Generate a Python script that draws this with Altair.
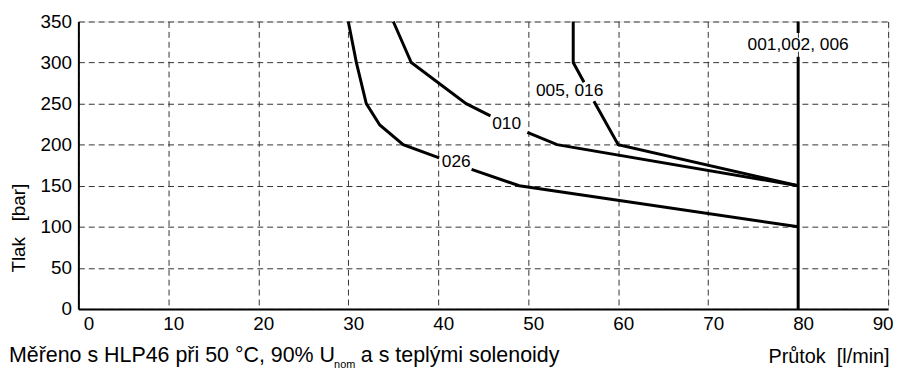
import altair as alt
import pandas as pd

FONT = "Liberation Sans"
NB = "\u00a0"

# --- curve data (flow l/min, pressure bar); seg splits line where a label sits
c026_flow = [30.0, 30.9, 32.0, 33.5, 36.1, 40.1, 43.7, 49.0, 80.0]
c026_pres = [350, 300, 250, 224, 200, 184, 170, 150, 100]
c026_seg = [0, 0, 0, 0, 0, 0, 1, 1, 1]

c010_flow = [35.0, 37.0, 43.1, 45.8, 49.9, 53.2, 80.0]
c010_pres = [350, 300, 250, 235, 215, 200, 150]
c010_seg = [0, 0, 0, 0, 1, 1, 1]

c005_flow = [55.0, 55.0, 56.2, 57.3, 60.0, 80.0]
c005_pres = [350, 300, 276, 253, 200, 150]
c005_seg = [0, 0, 0, 1, 1, 1]

c001_flow = [80.0, 80.0, 80.0, 80.0]
c001_pres = [0, 307, 336, 350]
c001_seg = [0, 0, 1, 1]

label_text = ["026", "010", "005, 016", "001,002, 006"]
label_x = [42.0, 47.6, 54.6, 80.0]
label_y = [179, 225, 265, 321]

x_ticks = [0, 10, 20, 30, 40, 50, 60, 70, 80, 90]
y_ticks = [0, 50, 100, 150, 200, 250, 300, 350]

rows = []
for name, fl, pr, sg in [("026", c026_flow, c026_pres, c026_seg),
                         ("010", c010_flow, c010_pres, c010_seg),
                         ("005", c005_flow, c005_pres, c005_seg),
                         ("001", c001_flow, c001_pres, c001_seg)]:
    for i, (f, p, s) in enumerate(zip(fl, pr, sg)):
        rows.append({"curve": name, "seg": f"{name}-{s}", "flow": f, "p": p, "i": i})
df = pd.DataFrame(rows)
lab = pd.DataFrame({"t": label_text, "x": label_x, "y": label_y})

xscale = alt.Scale(domain=[0, 90], nice=False, zero=False)
yscale = alt.Scale(domain=[0, 350], nice=False)

x_axis = alt.Axis(values=x_ticks, ticks=False, labelPadding=6, labelOffset=5,
                  labelFontSize=19, labelFont=FONT, labelColor="black",
                  grid=True, gridDash=[6, 4], gridColor="#333333", gridWidth=1,
                  domainColor="black", domainWidth=2,
                  title=f"Průtok{NB}{NB}[l/min]", titleFont=FONT, titleFontSize=20,
                  titleFontWeight="normal", titleColor="black",
                  titleX=818, titleY=54, titleAlign="right", titleBaseline="alphabetic")
y_axis = alt.Axis(values=y_ticks, ticks=False, labelPadding=7,
                  labelFontSize=19, labelFont=FONT, labelColor="black",
                  grid=True, gridDash=[6, 4], gridColor="#333333", gridWidth=1,
                  domainColor="black", domainWidth=2,
                  title=f"Tlak{NB}{NB}{NB}[bar]", titleFont=FONT, titleFontSize=19,
                  titleFontWeight="normal", titleColor="black",
                  titleX=-54, titleY=208, titleAngle=270, titleAlign="center",
                  titleBaseline="alphabetic")

lines = alt.Chart(df).mark_line(color="black", strokeWidth=3).encode(
    x=alt.X("flow:Q", scale=xscale, axis=x_axis),
    y=alt.Y("p:Q", scale=yscale, axis=y_axis),
    detail="seg:N",
    order="i:Q",
)

labels = alt.Chart(lab).mark_text(font=FONT, fontSize=17.5, color="black").encode(
    x=alt.X("x:Q", scale=xscale),
    y=alt.Y("y:Q", scale=yscale),
    text="t:N",
)

one = alt.Data(values=[{"a": 1}])
note1 = alt.Chart(one).mark_text(text="Měřeno s HLP46 při 50 °C, 90% U", font=FONT, fontSize=21.6,
                                 align="left", baseline="alphabetic", color="black").encode(
    x=alt.value(-70), y=alt.value(344))
note2 = alt.Chart(one).mark_text(text="nom", font=FONT, fontSize=11,
                                 align="left", baseline="alphabetic", color="black").encode(
    x=alt.value(258), y=alt.value(350))
note3 = alt.Chart(one).mark_text(text="a s teplými solenoidy", font=FONT, fontSize=21.6,
                                 align="left", baseline="alphabetic", color="black").encode(
    x=alt.value(285), y=alt.value(344))

chart = alt.layer(lines, labels, note1, note2, note3).properties(
    width=817, height=290,
    autosize=alt.AutoSizeParams(type="none"),
    padding={"left": 71, "top": 12, "right": 15, "bottom": 60},
).configure_view(stroke="black", strokeWidth=2).configure(background="white")

chart.save("out.html", embed_options={"renderer": "svg", "actions": False})
